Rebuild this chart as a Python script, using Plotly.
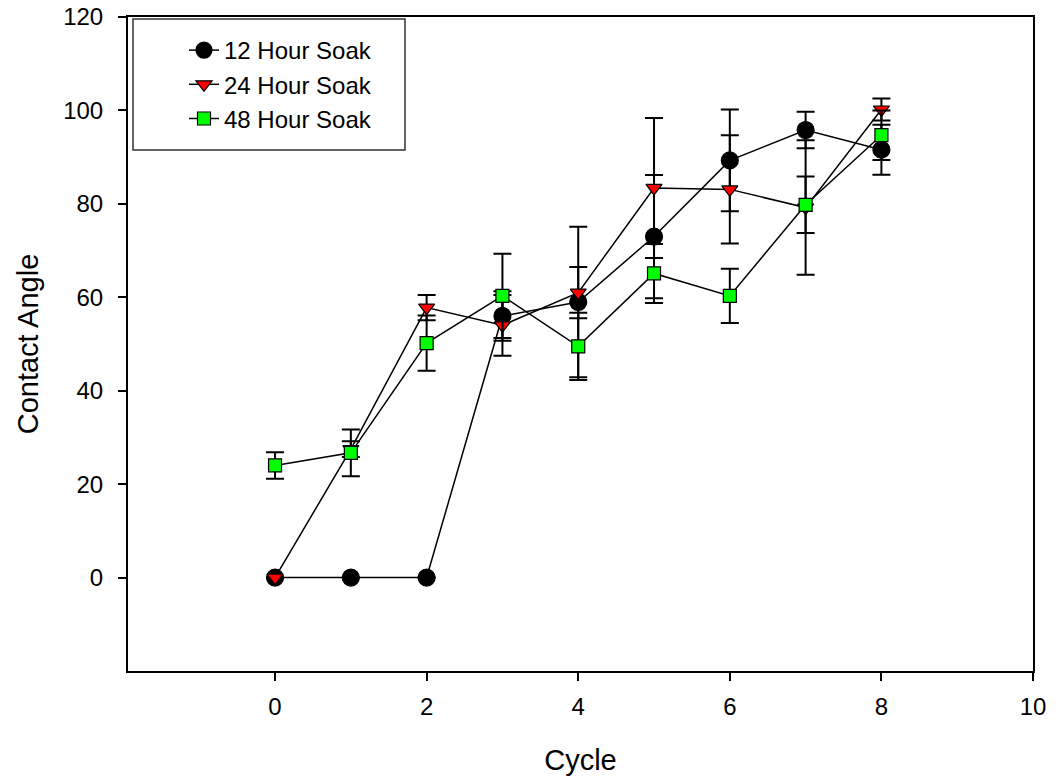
import plotly.graph_objects as go

cycles = [0, 1, 2, 3, 4, 5, 6, 7, 8]

h12 = [0, 0, 0, 56.0, 59.0, 73.0, 89.3, 95.8, 91.6]
h12_err = [0, 0, 0, 5.3, 16.1, 13.2, 10.9, 3.9, 5.35]

h24 = [0, 27.5, 57.8, 54.0, 61.0, 83.4, 83.1, 79.2, 100.2]
h24_err = [0, 1.7, 2.7, 6.5, 5.5, 15.0, 11.6, 14.4, 2.35]

h48 = [24.0, 26.7, 50.2, 60.3, 49.5, 65.1, 60.3, 79.8, 94.7]
h48_err = [2.85, 5.0, 5.9, 9.0, 7.2, 6.3, 5.8, 6.05, 5.3]

names = ["12 Hour Soak", "24 Hour Soak", "48 Hour Soak"]

FONT = "Arial, Liberation Sans, sans-serif"

fig = go.Figure()

specs = [
    (h12, h12_err, names[0], "circle", "black", 17),
    (h24, h24_err, names[1], "triangle-down", "#ff0000", 14),
    (h48, h48_err, names[2], "square", "#00ff00", 13),
]

for ys, es, nm, sym, col, sz in specs:
    fig.add_trace(go.Scatter(
        x=cycles, y=ys, name=nm, mode="lines+markers",
        line=dict(color="black", width=1.5),
        marker=dict(symbol=sym, color=col, size=sz,
                    line=dict(color="black", width=1.2)),
        error_y=dict(type="data", array=es, visible=True,
                     color="black", thickness=2, width=9),
    ))

fig.update_layout(
    width=1057, height=778,
    margin=dict(l=128, r=24, t=17, b=107),
    paper_bgcolor="white", plot_bgcolor="white",
    font=dict(family=FONT, size=24, color="black"),
    showlegend=True,
    legend=dict(
        x=(184 - 128) / 905, y=(671 - 28) / 654, xanchor="left", yanchor="top",
        bgcolor="rgba(0,0,0,0)", borderwidth=0,
        font=dict(family=FONT, size=24, color="black"),
    ),
    xaxis=dict(
        range=[-1.94, 10], tickvals=[0, 2, 4, 6, 8, 10],
        showgrid=False, zeroline=False, automargin=False,
        showline=True, linecolor="black", linewidth=2, mirror=True,
        ticks="outside", ticklen=8, tickwidth=1.5, tickcolor="black",
        tickfont=dict(size=24), ticklabelstandoff=5,
        title=dict(text="Cycle", font=dict(size=29), standoff=31),
    ),
    yaxis=dict(
        range=[-20, 120], tickvals=[0, 20, 40, 60, 80, 100, 120],
        showgrid=False, zeroline=False, automargin=False,
        showline=True, linecolor="black", linewidth=2, mirror=True,
        ticks="outside", ticklen=8, tickwidth=1.5, tickcolor="black",
        tickfont=dict(size=24), ticklabelstandoff=10,
        title=dict(text="Contact Angle", font=dict(size=29), standoff=16),
    ),
    shapes=[dict(
        type="rect", xref="paper", yref="paper",
        x0=(133 - 128) / 905, x1=(405 - 128) / 905,
        y0=(671 - 150) / 654, y1=(671 - 19) / 654,
        line=dict(color="#333333", width=1.5), fillcolor="rgba(0,0,0,0)",
    )],
)

fig.write_html("out.html")
